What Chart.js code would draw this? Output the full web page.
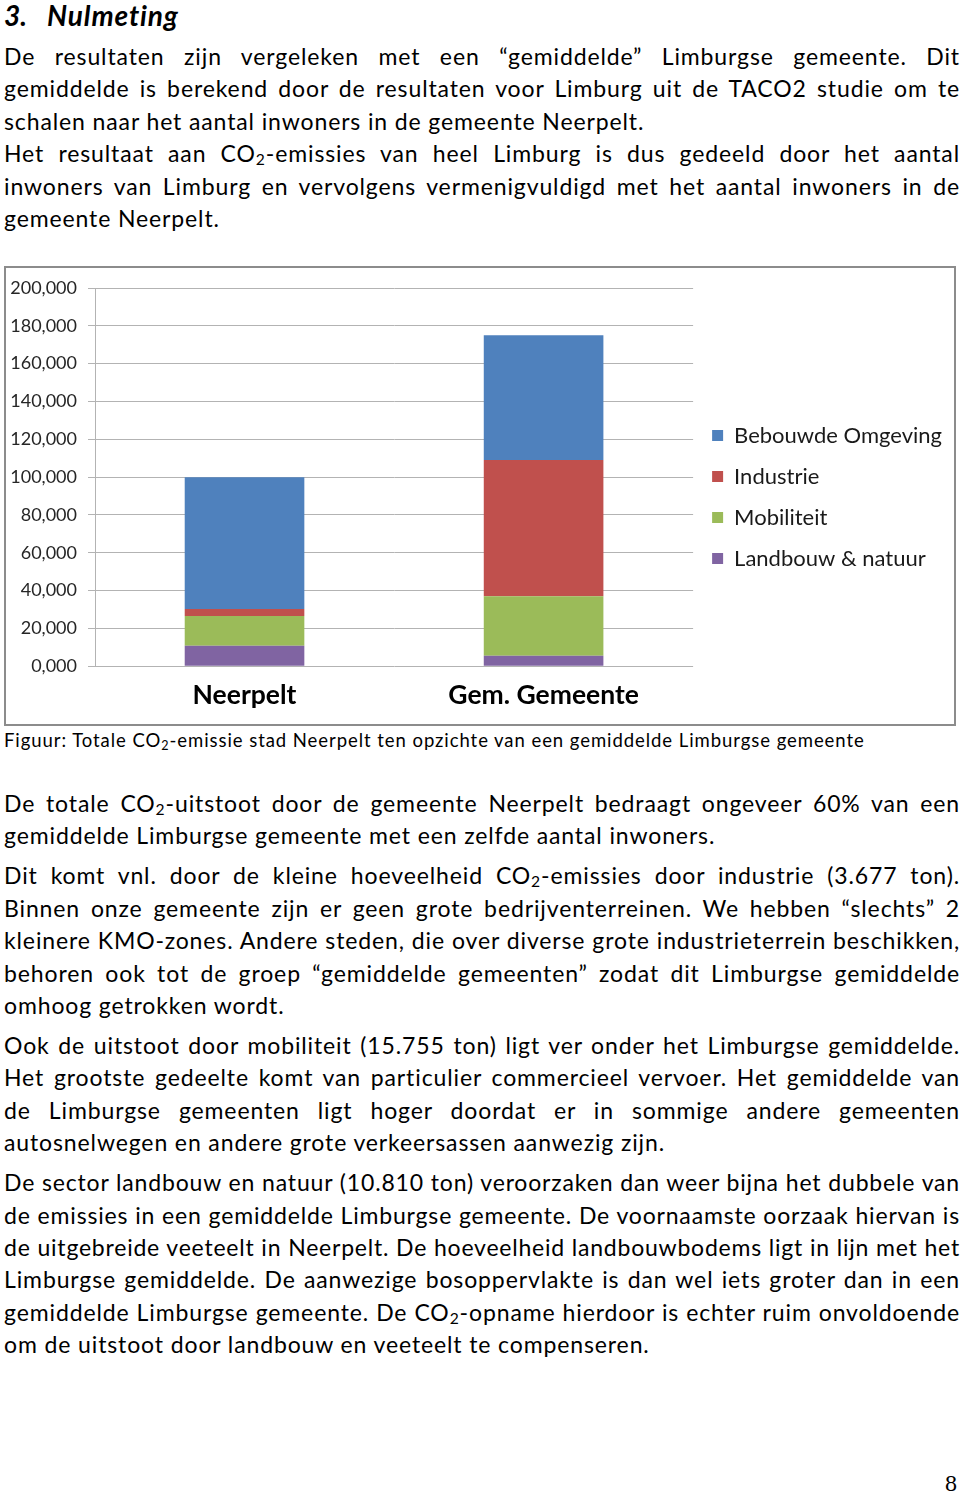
<!DOCTYPE html>
<html lang="nl">
<head>
<meta charset="UTF-8">
<title>Nulmeting</title>
<script src="https://cdn.jsdelivr.net/npm/chart.js"></script>
<style>
  html, body { margin: 0; padding: 0; background: #fff; }
  body { width: 960px; height: 1495px; position: relative; overflow: hidden;
         font-family: Lato, "Open Sans", sans-serif; color: #000; }
  h1 { position: absolute; left: 4px; top: 0; margin: 0; font-size: 28px; line-height: 30px;
       font-weight: bold; font-style: italic; letter-spacing: 0.9px; }
  h1 .num { display: inline-block; width: 43px; letter-spacing: 0; }
  .tekst { position: absolute; left: 4px; width: 956px; font-size: 23px; line-height: 32.4px;
           letter-spacing: 0.88px; }
  .tekst .p + .p { margin-top: 7.6px; }
  .tekst.boven .p + .p { margin-top: 0; }
  .j { text-align: justify; text-align-last: justify; }
  sub { font-size: 0.68em; line-height: 0; vertical-align: -0.22em; }
  #kader { position: absolute; left: 4px; top: 266px; width: 948px; height: 456px;
           border: 2px solid #8c8c8c; }
  #kader canvas { display: block; }
  .bijschrift { position: absolute; left: 4px; top: 728px; font-size: 18.5px; line-height: 24px;
                letter-spacing: 0.94px; }
  .pagina { position: absolute; right: 3px; top: 1470px; font-family: "Liberation Serif", serif; font-size: 24px; }
</style>
</head>
<body>

<h1><span class="num">3.</span>Nulmeting</h1>

<div class="tekst boven" style="top: 40px;">
  <div class="p">
    <div class="j">De resultaten zijn vergeleken met een “gemiddelde” Limburgse gemeente. Dit</div>
    <div class="j">gemiddelde is berekend door de resultaten voor Limburg uit de TACO2 studie om te</div>
    <div>schalen naar het aantal inwoners in de gemeente Neerpelt.</div>
  </div>
  <div class="p">
    <div class="j">Het resultaat aan CO<sub>2</sub>-emissies van heel Limburg is dus gedeeld door het aantal</div>
    <div class="j">inwoners van Limburg en vervolgens vermenigvuldigd met het aantal inwoners in de</div>
    <div>gemeente Neerpelt.</div>
  </div>
</div>

<div id="kader">
  <canvas id="co2Chart" width="948" height="456"></canvas>
</div>

<div class="bijschrift">Figuur: Totale CO<sub>2</sub>-emissie stad Neerpelt ten opzichte van een gemiddelde Limburgse gemeente</div>

<div class="tekst" style="top: 787px;">
  <div class="p">
    <div class="j">De totale CO<sub>2</sub>-uitstoot door de gemeente Neerpelt bedraagt ongeveer 60% van een</div>
    <div>gemiddelde Limburgse gemeente met een zelfde aantal inwoners.</div>
  </div>
  <div class="p">
    <div class="j">Dit komt vnl. door de kleine hoeveelheid CO<sub>2</sub>-emissies door industrie (3.677 ton).</div>
    <div class="j">Binnen onze gemeente zijn er geen grote bedrijventerreinen. We hebben “slechts” 2</div>
    <div class="j">kleinere KMO-zones. Andere steden, die over diverse grote industrieterrein beschikken,</div>
    <div class="j">behoren ook tot de groep “gemiddelde gemeenten” zodat dit Limburgse gemiddelde</div>
    <div>omhoog getrokken wordt.</div>
  </div>
  <div class="p">
    <div class="j">Ook de uitstoot door mobiliteit (15.755 ton) ligt ver onder het Limburgse gemiddelde.</div>
    <div class="j">Het grootste gedeelte komt van particulier commercieel vervoer. Het gemiddelde van</div>
    <div class="j">de Limburgse gemeenten ligt hoger doordat er in sommige andere gemeenten</div>
    <div>autosnelwegen en andere grote verkeersassen aanwezig zijn.</div>
  </div>
  <div class="p">
    <div class="j">De sector landbouw en natuur (10.810 ton) veroorzaken dan weer bijna het dubbele van</div>
    <div class="j">de emissies in een gemiddelde Limburgse gemeente. De voornaamste oorzaak hiervan is</div>
    <div class="j">de uitgebreide veeteelt in Neerpelt. De hoeveelheid landbouwbodems ligt in lijn met het</div>
    <div class="j">Limburgse gemiddelde. De aanwezige bosoppervlakte is dan wel iets groter dan in een</div>
    <div class="j">gemiddelde Limburgse gemeente. De CO<sub>2</sub>-opname hierdoor is echter ruim onvoldoende</div>
    <div>om de uitstoot door landbouw en veeteelt te compenseren.</div>
  </div>
</div>

<div class="pagina">8</div>

<script>
  // gegevens (ton CO2)
  const categorieen = ['Neerpelt', 'Gem. Gemeente'];
  const landbouw = [10810, 5500];
  const mobiliteit = [15755, 31500];
  const industrie = [3677, 72000];
  const bebouwd = [69700, 66000];
  const yLabels = ['0,000', '20,000', '40,000', '60,000', '80,000', '100,000',
                   '120,000', '140,000', '160,000', '180,000', '200,000'];

  // regels die te lang zijn: letterafstand wat kleiner
  document.querySelectorAll('.tekst .p > div').forEach(el => {
    let ls = 0.88;
    while (el.getBoundingClientRect().height > 40 && ls > -1) {
      ls -= 0.05;
      el.style.letterSpacing = ls + 'px';
    }
  });

  const grijs = '#b3b3b3';
  const ctx = document.getElementById('co2Chart').getContext('2d');
  new Chart(ctx, {
    type: 'bar',
    data: {
      labels: categorieen,
      datasets: [
        { label: 'Landbouw & natuur', data: landbouw, backgroundColor: '#8064a2' },
        { label: 'Mobiliteit', data: mobiliteit, backgroundColor: '#9bbb59' },
        { label: 'Industrie', data: industrie, backgroundColor: '#c0504d' },
        { label: 'Bebouwde Omgeving', data: bebouwd, backgroundColor: '#4f81bd' }
      ]
    },
    options: {
      responsive: false,
      animation: false,
      layout: { padding: { top: 2, right: 2, bottom: 0, left: 0 } },
      datasets: { bar: { barPercentage: 0.4, categoryPercentage: 1 } },
      scales: {
        x: {
          stacked: true,
          grid: { display: false, drawTicks: false },
          border: { display: false },
          ticks: { color: '#000', padding: 13, font: { family: 'Lato', size: 26.5, weight: 'bold' } }
        },
        y: {
          stacked: true,
          min: 0,
          max: 200000,
          afterFit: scale => { scale.width = 89; },
          grid: { color: grijs, lineWidth: 1, tickLength: 7 },
          border: { color: grijs },
          ticks: {
            stepSize: 20000,
            padding: 11,
            color: '#262626',
            font: { family: 'Lato', size: 18, lineHeight: 1 },
            callback: (v, i) => yLabels[i]
          }
        }
      },
      plugins: {
        tooltip: { enabled: false },
        legend: {
          position: 'right',
          reverse: true,
          maxWidth: 280,
          labels: {
            boxWidth: 11,
            boxHeight: 11,
            padding: 19,
            color: '#1a1a1a',
            font: { family: 'Lato', size: 22 }
          }
        }
      }
    }
  });
</script>
</body>
</html>
